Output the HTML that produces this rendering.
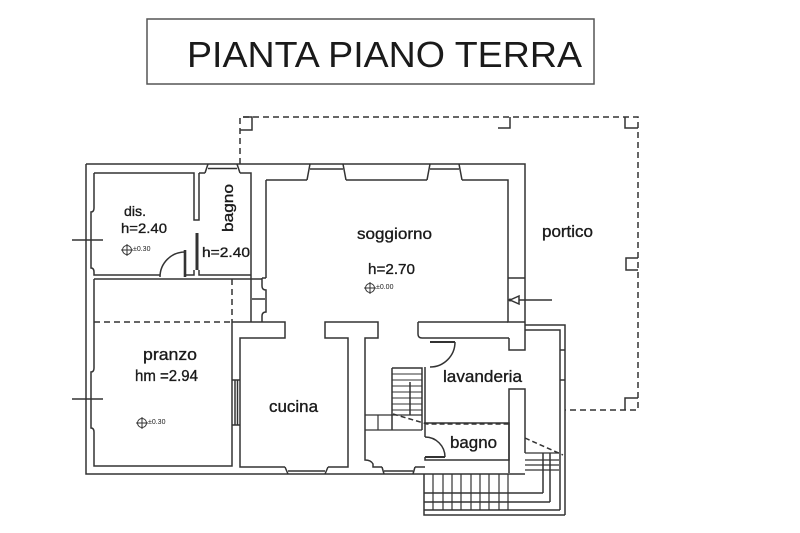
<!DOCTYPE html>
<html>
<head>
<meta charset="utf-8">
<style>
  html,body{margin:0;padding:0;background:#fff;}
  svg{display:block;}
  text{font-family:"Liberation Sans",Arial,sans-serif;fill:#1a1a1a;}
  .lb{stroke:#1a1a1a;stroke-width:0.35;}
</style>
</head>
<body>
<svg width="800" height="533" viewBox="0 0 800 533" xmlns="http://www.w3.org/2000/svg">
  <rect x="0" y="0" width="800" height="533" fill="#fff"/>

  <!-- Title -->
  <rect x="147" y="19" width="447" height="65" fill="none" stroke="#555" stroke-width="1.5"/>
  <text x="187" y="67" font-size="36" textLength="395" lengthAdjust="spacingAndGlyphs">PIANTA PIANO TERRA</text>

  <g fill="none" stroke="#333" stroke-width="1.5">
    <!-- Portico dashed outline -->
    <path d="M240,164 V117 H638 V410 H565" stroke-dasharray="6 4"/>
    <polyline points="243,117 252,117 252,130 240,130"/>
    <polyline points="498,128 510,128 510,117"/>
    <polyline points="625,117 625,128 638,128"/>
    <polyline points="638,258 626,258 626,270 638,270"/>
    <polyline points="638,398 625,398 625,410"/>

    <!-- Outer walls -->
    <path d="M86,164 H525 V350 H509 V338"/>
    <path d="M86,164 V474 H525"/>

    <!-- dis. -->
    <path d="M94,173 H194 V220 H199 V173"/>
    <path d="M94,173 V208 Q94,212 91,212 V268 Q94,268 94,272 V275 H160"/>
    <path d="M160,277 A25,25 0 0 1 185,252"/>
    <path d="M185,250 V277" stroke-width="2.6"/>
    <path d="M185,275 H194 V270 M199,270 V275 H251"/>
    <path d="M197,233 V270" stroke-width="3"/>

    <!-- bagno (top) -->
    <path d="M199,173 H205 M240,173 H251 V322"/>
    <path d="M205,173 L208,164 M240,173 L237,164 M208,168.5 H237"/>

    <!-- pranzo -->
    <path d="M94,279 H262"/>
    <path d="M94,279 V368 Q94,372 91,372 V428 Q94,428 94,432 V466 H232 V322"/>
    <path d="M94,322 H232 M232,279 V322" stroke-dasharray="6 4"/>
    <path d="M232,380 H240 M232,425 H240 M235,380 V425 M237.5,380 V425"/>

    <!-- door pranzo/soggiorno -->
    <path d="M252,299 H265 M262,278 H266 M262,278 V286 Q262,290 266,290 V312 Q262,312 262,316 V322"/>

    <!-- cucina + T wall -->
    <path d="M232,322 H285 V338 H240 V467 H285"/>
    <path d="M328,467 H348 V338 H325 V322 H378 V338 H365 V460 Q371,460 373,464 V467 H382"/>
    <path d="M415,467 H425"/>
    <path d="M285,467 L288,474 M328,467 L325,474 M288,471 H325"/>
    <path d="M382,467 L384,474 M415,467 L413,474 M384,471 H413"/>

    <!-- soggiorno -->
    <path d="M266,180 V278"/>
    <path d="M266,180 H307 M346,180 H427 M462,180 H508 V322 H525 M508,278 H525"/>
    <path d="M307,180 L310,164 M346,180 L343,164 M310,169 H343"/>
    <path d="M427,180 L430,164 M462,180 L459,164 M430,169 H459"/>

    <!-- lavanderia -->
    <path d="M418,322 H508 M418,322 V334 Q418,338 422,338 H509"/>
    <path d="M525,325 H565 V515 M525,330 H560 V510"/>
    <path d="M560,350 H565 M560,380 H565"/>
    <path d="M425,367 V423"/>
    <path d="M430,342 H455" stroke-width="2"/>
    <path d="M455,342 A25,25 0 0 1 430,367"/>
    <path d="M509,473 V389 H525 V453"/>

    <!-- bagno (lower) -->
    <path d="M425,437 V423 H509 V460 H425 V457"/>
    <path d="M425,457 H445" stroke-width="2"/>
    <path d="M445,457 A20,20 0 0 0 425,437"/>

    <!-- internal stair -->
    <path d="M392,368 H422 V430 M392,368 V430"/>
    <path d="M392,374 H422 M392,380 H422 M392,386 H422 M392,392 H422 M392,398 H422 M392,404 H422 M392,410 H422" stroke-width="1.1"/>
    <path d="M410,382 V415"/>
    <path d="M365,415 H422 M365,430 H422 M378,415 V430" stroke-width="1.2"/>
    <path d="M393,414 L427,424 H509" stroke-dasharray="5 3"/>

    <!-- external stairs -->
    <path d="M525,453 H559 M525,460 H559 M525,465 H559 M525,470 H559" stroke-width="1.2"/>
    <path d="M543,453 V493 M550,453 V502"/>
    <path d="M525,438 L563,455" stroke-dasharray="5 3"/>
    <path d="M424,474 V515 H565 M424,510 H560 M424,502 H550 M424,493 H543"/>
    <path d="M433,474 V510 M443,474 V510 M452,474 V510 M461,474 V510 M471,474 V510 M480,474 V510 M489,474 V510 M499,474 V510 M508,474 V510" stroke-width="1.2"/>

    <!-- entrance markers -->
    <path d="M72,240 H103 M72,399 H103"/>
    <path d="M519,300 H552"/>
    <polygon points="510,300 519,296 519,304"/>

    <!-- level markers -->
    <g stroke-width="1">
      <circle cx="127" cy="250" r="4.5"/><path d="M121,250 H133 M127,244 V256"/>
      <circle cx="142" cy="423" r="4.5"/><path d="M136,423 H148 M142,417 V429"/>
      <circle cx="370" cy="288" r="4.5"/><path d="M364,288 H376 M370,282 V294"/>
    </g>
  </g>
  <circle cx="510" cy="300" r="1.5" fill="#333"/>

  <!-- level texts -->
  <text x="133" y="251" font-size="7">±0.30</text>
  <text x="148" y="424" font-size="7">±0.30</text>
  <text x="376" y="289" font-size="7">±0.00</text>

  <!-- Room labels -->
  <text class="lb" x="124" y="216" font-size="14" textLength="22" lengthAdjust="spacingAndGlyphs">dis.</text>
  <text class="lb" x="121" y="233" font-size="14" textLength="46" lengthAdjust="spacingAndGlyphs">h=2.40</text>
  <text class="lb" x="202" y="257" font-size="14" textLength="48" lengthAdjust="spacingAndGlyphs">h=2.40</text>
  <text class="lb" transform="translate(233,232) rotate(-90)" font-size="15" textLength="48" lengthAdjust="spacingAndGlyphs">bagno</text>

  <text class="lb" x="143" y="360" font-size="17" textLength="54" lengthAdjust="spacingAndGlyphs">pranzo</text>
  <text class="lb" x="135" y="381" font-size="16" textLength="63" lengthAdjust="spacingAndGlyphs">hm =2.94</text>

  <text class="lb" x="357" y="239" font-size="16" textLength="75" lengthAdjust="spacingAndGlyphs">soggiorno</text>
  <text class="lb" x="368" y="274" font-size="15" textLength="47" lengthAdjust="spacingAndGlyphs">h=2.70</text>

  <text class="lb" x="542" y="237" font-size="17" textLength="51" lengthAdjust="spacingAndGlyphs">portico</text>
  <text class="lb" x="269" y="412" font-size="17" textLength="49" lengthAdjust="spacingAndGlyphs">cucina</text>
  <text class="lb" x="443" y="382" font-size="17" textLength="79" lengthAdjust="spacingAndGlyphs">lavanderia</text>
  <text class="lb" x="450" y="448" font-size="17" textLength="47" lengthAdjust="spacingAndGlyphs">bagno</text>
</svg>
</body>
</html>
